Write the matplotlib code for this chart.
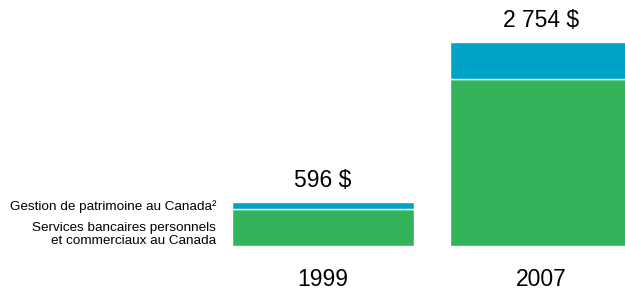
import matplotlib.pyplot as plt

# données
annees = ["1999", "2007"]
services_bancaires = [500, 2258]
gestion_patrimoine = [96, 496]
totaux = ["596 $", "2 754 $"]

plt.rcParams["font.family"] = ["Liberation Sans", "DejaVu Sans"]

vert = "#33b35a"
bleu = "#00a3c8"

fig = plt.figure(figsize=(6.25, 2.91), dpi=100)
ax = fig.add_axes([0, 0, 1, 1])

pos = list(range(len(annees)))
ax.bar(pos, services_bancaires, width=0.835, color=vert, edgecolor="white", linewidth=1)
ax.bar(pos, gestion_patrimoine, width=0.835, bottom=services_bancaires,
       color=bleu, edgecolor="white", linewidth=1)

for i in pos:
    haut = services_bancaires[i] + gestion_patrimoine[i]
    ax.annotate(totaux[i], (i, haut), xytext=(0, 7), textcoords="offset points",
                ha="center", va="bottom", fontsize=16.5)
    ax.text(i, -450, annees[i], ha="center", va="center", fontsize=16.5)

# légende à gauche de la première barre
ax.text(-0.49, 534, "Gestion de patrimoine au Canada²", ha="right", va="center", fontsize=9.7)
ax.text(-0.49, 236, "Services bancaires personnels", ha="right", va="center", fontsize=9.7)
ax.text(-0.49, 60, "et commerciaux au Canada", ha="right", va="center", fontsize=9.7)

ax.set_xlim(-1.482, 1.385)
ax.set_ylim(-612, 3322)
ax.axis("off")

fig.savefig("out.png", dpi=100)
